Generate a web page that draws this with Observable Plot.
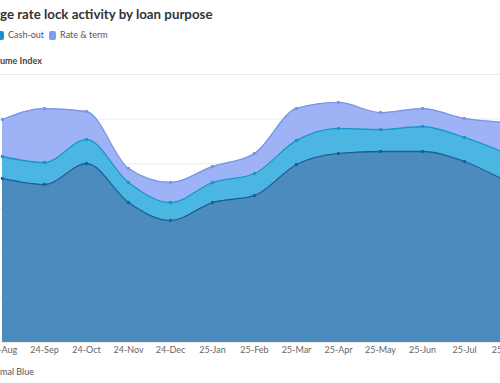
<!DOCTYPE html>
<html>
<head>
<meta charset="utf-8">
<script src="https://cdn.jsdelivr.net/npm/d3@7"></script>
<script src="https://cdn.jsdelivr.net/npm/@observablehq/plot@0.6"></script>
<style>
  html, body { margin: 0; padding: 0; background: #fff; }
  #wrap { position: relative; width: 500px; height: 383px; overflow: hidden; font-family: Lato, "Noto Sans", sans-serif; }
  .line { position: absolute; white-space: nowrap; left: 0; }
  #title { top: 4px; font-size: 13.3px; line-height: 20px; font-weight: 700; color: #333; }
  #legend { top: 28px; left: -3px; font-size: 9px; line-height: 14px; color: #555; display: flex; align-items: center; }
  #legend .item { display: inline-flex; align-items: center; margin-right: 5px; }
  #legend .sw { display: inline-block; width: 7px; height: 9px; border-radius: 2px; margin-right: 4px; }
  #ylabel { top: 54px; font-size: 9px; line-height: 14px; font-weight: 700; color: #444; }
  #caption { top: 365px; font-size: 9px; line-height: 14px; color: #555; }
  #chart { position: absolute; left: -50px; top: 64px; width: 580px; }
  #chart svg { max-width: none !important; }
</style>
</head>
<body>
<div id="wrap">
  <div id="title" class="line">ge rate lock activity by loan purpose</div>
  <div id="legend" class="line"></div>
  <div id="ylabel" class="line">ume Index</div>
  <div id="chart"></div>
  <div id="caption" class="line">mal Blue</div>
</div>
<script>
// ---- data ----
const months = ["24-Aug","24-Sep","24-Oct","24-Nov","24-Dec","25-Jan","25-Feb","25-Mar","25-Apr","25-May","25-Jun","25-Jul","25-Aug"];
const seriesNames = ["Purchase","Cash-out","Rate & term"];
const legendNames = ["Cash-out","Rate & term"];
const purchase = [183.6, 176.9, 200.4, 156.7, 136.6, 156.7, 164.6, 199.3, 211.6, 213.8, 213.8, 202.6, 180.2];
const cashOut  = [24.6, 24.6, 26.9, 22.4, 20.1, 22.4, 24.6, 26.9, 28.0, 24.6, 28.0, 26.9, 31.3];
const rateTerm = [41.4, 60.4, 31.3, 15.7, 22.4, 17.9, 22.4, 35.8, 29.1, 19.0, 20.1, 21.3, 34.7];
const yTicks = [0, 50, 100, 150, 200, 250, 300];

const fills   = ["#4b8bbe", "#4cb6e2", "#9db3f5"];
const strokes = ["#1c5f99", "#1b93cc", "#7a95e6"];
const swatch  = {"Cash-out": "#1a8fd0", "Rate & term": "#7c9cf0"};

// ---- stacked tables ----
const valuesBySeries = [purchase, cashOut, rateTerm];
const tables = [];
const base = months.map(() => 0);
valuesBySeries.forEach((vals, s) => {
  tables.push(months.map((m, i) => {
    const lo = base[i];
    const hi = lo + vals[i];
    base[i] = hi;
    return {month: m, lo, hi, series: seriesNames[s]};
  }));
});

const marks = [Plot.gridY(yTicks, {stroke: "#ebebeb", strokeOpacity: 1, strokeWidth: 1})];
tables.forEach((t, s) => {
  marks.push(Plot.areaY(t, {x: "month", y1: "lo", y2: "hi", fill: fills[s], fillOpacity: 1, curve: "monotone-x"}));
});
tables.forEach((t, s) => {
  marks.push(Plot.lineY(t, {x: "month", y: "hi", stroke: strokes[s], strokeWidth: 1.3, curve: "monotone-x"}));
  marks.push(Plot.dot(t, {x: "month", y: "hi", fill: strokes[s], r: 1.8}));
});
marks.push(Plot.axisX({tickSize: 0, tickPadding: 4, fontSize: 9, fill: "#666", label: null}));

const chart = Plot.plot({
  width: 580,
  height: 300,
  marginLeft: 48,
  marginRight: 20,
  marginTop: 10,
  marginBottom: 22,
  x: {type: "point", domain: months, padding: 0},
  y: {domain: [0, 300], axis: null},
  style: {fontFamily: "Lato, 'Noto Sans', sans-serif", fontSize: "9px", background: "transparent", maxWidth: "none"},
  marks
});
document.getElementById("chart").appendChild(chart);

// ---- legend ----
const legend = document.getElementById("legend");
legendNames.forEach((name) => {
  const item = document.createElement("span");
  item.className = "item";
  const sw = document.createElement("span");
  sw.className = "sw";
  sw.style.background = swatch[name];
  item.appendChild(sw);
  item.appendChild(document.createTextNode(name));
  legend.appendChild(item);
});
</script>
</body>
</html>
